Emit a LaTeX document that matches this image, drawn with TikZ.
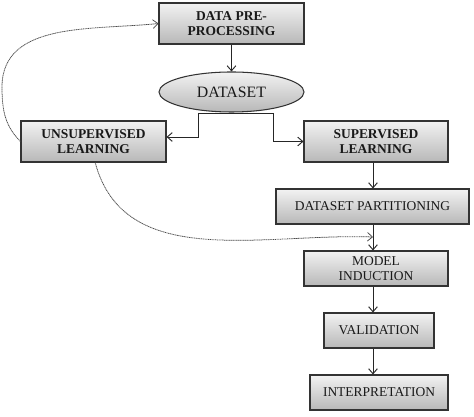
\documentclass[tikz,border=0pt]{standalone}
\usepackage{fontspec}
\setmainfont{Liberation Serif}
\usetikzlibrary{arrows.meta,shapes.geometric}
\tikzset{
mybox/.style={
  rectangle,
  draw=black!80,
  line width=0.9pt,
  top color=black!5,
  bottom color=black!28,
  text=black!90,
  align=center,
  inner sep=0pt,
  font=\fontsize{11.5}{12.8}\selectfont
  },
myell/.style={
  ellipse,
  draw=black!80,
  line width=0.9pt,
  top color=black!5,
  bottom color=black!28,
  text=black!90,
  inner sep=0pt,
  minimum width=4.35cm,
  minimum height=1.2cm,
  font=\fontsize{13.5}{15}\selectfont
  },
myarr/.style={->, line width=0.8pt, black!85},
mycurve/.style={->, dash pattern=on 1pt off 0.5pt, line width=0.65pt, black!70}
}

\begin{document}
\begin{tikzpicture}[>={Straight Barb[length=1.5mm,width=2.6mm]}]
\useasboundingbox (0,0) rectangle (14.22,12.51);

\node[mybox, minimum width=4.35cm, minimum height=1.23cm, font=\bfseries\fontsize{11.5}{12.8}\selectfont]
  at (6.945,11.805) (dpp) {DATA PRE-\\PROCESSING};
\node[myell] at (6.945,9.75) (dataset) {DATASET};
\node[mybox, minimum width=4.35cm, minimum height=1.23cm, font=\bfseries\fontsize{11.5}{12.8}\selectfont]
  at (2.805,8.265) (unsup) {UNSUPERVISED\\LEARNING};
\node[mybox, minimum width=4.32cm, minimum height=1.23cm, font=\bfseries\fontsize{11.5}{12.8}\selectfont]
  at (11.28,8.265) (sup) {SUPERVISED\\LEARNING};
\node[mybox, minimum width=5.79cm, minimum height=1.05cm]
  at (11.175,6.315) (part) {DATASET PARTITIONING};
\node[mybox, minimum width=4.32cm, minimum height=1.05cm]
  at (11.28,4.455) (model) {MODEL\\INDUCTION};
\node[mybox, minimum width=3.3cm, minimum height=1.05cm]
  at (11.37,2.595) (valid) {VALIDATION};
\node[mybox, minimum width=4.14cm, minimum height=1.05cm]
  at (11.37,0.735) (interp) {INTERPRETATION};

\coordinate (axis) at (11.19,0);
\coordinate (merge) at (11.19,5.4);
\coordinate (loopturn) at (0.06,9.9);
\coordinate (splitL) at (5.94,9.12);
\coordinate (splitR) at (8.19,9.12);

\draw[myarr] (dpp.south) -- (dataset.north);
\draw[line width=0.8pt, black!85] (splitL) -- (splitR);
\draw[myarr] (splitL) |- ([yshift=0.135cm]unsup.east);
\draw[myarr] (splitR) |- (sup.west);
\draw[myarr] (sup.south -| axis) -- (part.north -| axis);
\draw[myarr] (part.south -| axis) -- (model.north -| axis);
\draw[myarr] (model.south -| axis) -- (valid.north -| axis);
\draw[myarr] (valid.south -| axis) -- (interp.north -| axis);

\draw[mycurve] (unsup.west) to[out=135,in=-90] (loopturn)
  to[out=90,in=186] (dpp.west);
\draw[mycurve] ([xshift=0.05cm]unsup.south) to[out=-75,in=178] (merge);
\end{tikzpicture}
\end{document}
